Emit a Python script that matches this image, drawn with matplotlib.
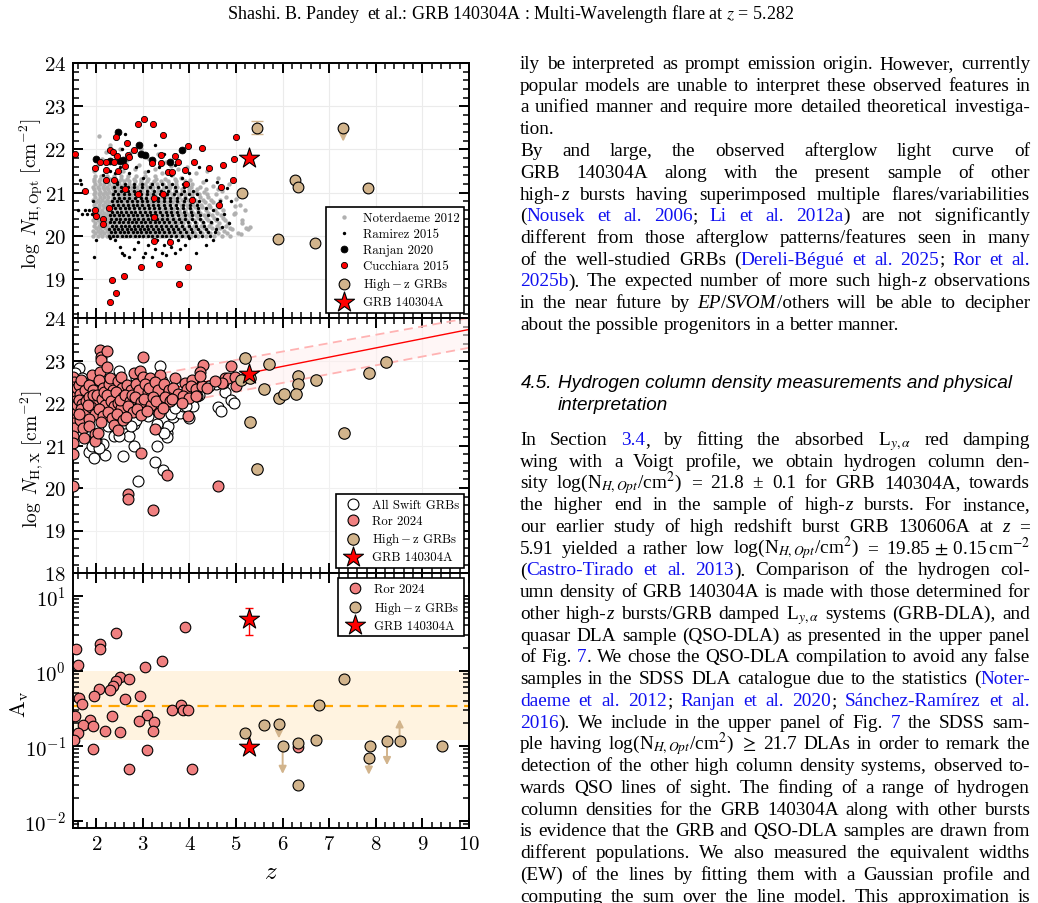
import re
import numpy as np
import matplotlib
matplotlib.use('Agg')
import matplotlib.pyplot as plt
from matplotlib.ticker import MultipleLocator, LogLocator, NullFormatter

plt.rcParams.update({
    'font.family': 'serif',
    'font.serif': ['cmr10'],
    'mathtext.fontset': 'cm',
    'axes.formatter.use_mathtext': True,
    'axes.unicode_minus': False,
})

# ---------------- data: upper panel (optical N_H) ----------------
noter_rows = [
    (20.00, [1.93, 2.03, 2.12, 2.22, 2.31, 2.41, 2.50, 2.60, 2.69, 2.79, 2.88, 2.98, 3.07, 3.17, 3.26, 3.36, 3.46, 3.57, 3.68, 3.79, 3.91, 4.04, 4.19, 4.35, 4.52, 4.70, 4.88]),
    (20.06, [1.98, 2.08, 2.17, 2.27, 2.36, 2.45, 2.55, 2.64, 2.74, 2.84, 2.93, 3.02, 3.12, 3.22, 3.31, 3.41, 3.52, 3.62, 3.73, 3.85, 3.97, 4.11, 4.27, 4.44, 4.61, 4.80, 5.05]),
    (20.12, [1.94, 2.04, 2.13, 2.23, 2.32, 2.42, 2.51, 2.61, 2.70, 2.80, 2.89, 2.99, 3.08, 3.18, 3.28, 3.38, 3.48, 3.59, 3.70, 3.82, 3.94, 4.07, 4.22, 4.38, 4.56, 4.75]),
    (20.18, [1.99, 2.09, 2.18, 2.28, 2.37, 2.47, 2.56, 2.66, 2.75, 2.85, 2.94, 3.04, 3.14, 3.24, 3.33, 3.44, 3.54, 3.65, 3.77, 3.89, 4.01, 4.15, 4.31, 4.48, 4.66, 4.86, 5.22]),
    (20.24, [1.95, 2.05, 2.14, 2.24, 2.33, 2.43, 2.52, 2.62, 2.71, 2.81, 2.90, 3.00, 3.10, 3.20, 3.30, 3.40, 3.50, 3.61, 3.72, 3.84, 3.96, 4.10, 4.25, 4.41, 4.59, 4.78]),
    (20.30, [1.97, 2.07, 2.16, 2.26, 2.35, 2.45, 2.54, 2.64, 2.73, 2.83, 2.92, 3.02, 3.12, 3.22, 3.32, 3.43, 3.53, 3.64, 3.75, 3.87, 4.00, 4.14, 4.29, 4.46, 4.64, 4.83]),
    (20.36, [1.94, 2.03, 2.13, 2.22, 2.32, 2.41, 2.51, 2.60, 2.70, 2.79, 2.89, 2.98, 3.08, 3.18, 3.28, 3.38, 3.49, 3.60, 3.71, 3.83, 3.95, 4.09, 4.24, 4.40, 4.58, 4.76, 5.12]),
    (20.42, [1.99, 2.08, 2.18, 2.27, 2.37, 2.46, 2.56, 2.65, 2.75, 2.85, 2.94, 3.04, 3.14, 3.24, 3.35, 3.45, 3.56, 3.67, 3.79, 3.91, 4.04, 4.19, 4.35, 4.52, 4.71]),
    (20.48, [1.95, 2.05, 2.14, 2.24, 2.33, 2.43, 2.52, 2.62, 2.72, 2.81, 2.91, 3.01, 3.11, 3.21, 3.31, 3.42, 3.52, 3.63, 3.75, 3.87, 4.00, 4.15, 4.31, 4.49, 4.68]),
    (20.54, [1.98, 2.07, 2.17, 2.26, 2.36, 2.45, 2.55, 2.65, 2.74, 2.84, 2.94, 3.04, 3.14, 3.24, 3.34, 3.45, 3.56, 3.68, 3.80, 3.93, 4.07, 4.23, 4.40, 4.59, 4.98]),
    (20.60, [1.94, 2.04, 2.13, 2.23, 2.32, 2.42, 2.52, 2.61, 2.71, 2.81, 2.91, 3.01, 3.11, 3.21, 3.32, 3.43, 3.54, 3.65, 3.77, 3.90, 4.04, 4.19, 4.36, 4.54, 4.72]),
    (20.66, [1.97, 2.06, 2.16, 2.25, 2.35, 2.45, 2.54, 2.64, 2.74, 2.84, 2.94, 3.04, 3.15, 3.25, 3.36, 3.47, 3.58, 3.70, 3.83, 3.96, 4.11, 4.27, 4.45, 4.64]),
    (20.72, [1.95, 2.05, 2.14, 2.24, 2.34, 2.43, 2.53, 2.63, 2.73, 2.83, 2.93, 3.03, 3.13, 3.24, 3.34, 3.45, 3.57, 3.69, 3.81, 3.94, 4.08, 4.24, 4.41, 4.60, 5.08]),
    (20.78, [1.99, 2.08, 2.18, 2.28, 2.37, 2.47, 2.57, 2.67, 2.77, 2.87, 2.97, 3.07, 3.18, 3.28, 3.39, 3.51, 3.63, 3.75, 3.88, 4.02, 4.17, 4.33, 4.51]),
    (20.84, [1.94, 2.04, 2.13, 2.23, 2.33, 2.43, 2.53, 2.63, 2.72, 2.82, 2.93, 3.03, 3.13, 3.24, 3.35, 3.46, 3.58, 3.70, 3.83, 3.97, 4.12, 4.28, 4.47, 4.66]),
    (20.90, [1.97, 2.07, 2.17, 2.26, 2.36, 2.46, 2.56, 2.66, 2.76, 2.86, 2.97, 3.07, 3.18, 3.29, 3.40, 3.52, 3.64, 3.77, 3.91, 4.06, 4.22, 4.40]),
    (20.96, [1.95, 2.05, 2.15, 2.24, 2.34, 2.44, 2.54, 2.64, 2.74, 2.85, 2.95, 3.06, 3.16, 3.27, 3.39, 3.51, 3.63, 3.76, 3.90, 4.05, 4.21, 4.38, 4.57]),
    (21.02, [1.98, 2.08, 2.18, 2.28, 2.38, 2.48, 2.58, 2.68, 2.78, 2.89, 2.99, 3.10, 3.21, 3.32, 3.44, 3.56, 3.69, 3.83, 3.98, 4.14, 4.32]),
    (21.08, [1.96, 2.06, 2.16, 2.26, 2.36, 2.46, 2.56, 2.67, 2.77, 2.88, 2.98, 3.09, 3.20, 3.32, 3.44, 3.57, 3.70, 3.84, 3.99, 4.16, 4.35, 4.62]),
    (21.14, [1.94, 2.04, 2.14, 2.24, 2.34, 2.45, 2.55, 2.65, 2.76, 2.87, 2.98, 3.09, 3.21, 3.33, 3.46, 3.59, 3.73, 3.88, 4.04, 4.22]),
    (21.20, [1.97, 2.07, 2.17, 2.28, 2.38, 2.48, 2.59, 2.70, 2.81, 2.93, 3.05, 3.17, 3.30, 3.43, 3.57, 3.72, 3.88, 4.05]),
    (21.26, [1.95, 2.05, 2.16, 2.26, 2.37, 2.48, 2.59, 2.71, 2.83, 2.96, 3.09, 3.23, 3.38, 3.54, 3.71, 3.90]),
    (21.32, [1.96, 2.07, 2.18, 2.29, 2.41, 2.53, 2.66, 2.80, 2.95, 3.11, 3.28, 3.47, 3.68]),
    (21.38, [1.98, 2.10, 2.23, 2.37, 2.52, 2.68, 2.86, 3.05, 3.27]),
]
noter_extra = [(1.96, 21.5), (2.02, 21.62), (2.12, 21.78), (2.05, 22.3), (2.22, 21.55), (2.3, 22.1),
               (2.36, 21.68), (2.5, 22.0), (2.58, 21.5), (2.66, 21.75), (2.75, 21.95), (2.84, 21.55),
               (2.92, 21.65), (3.05, 21.48), (3.12, 21.8), (3.25, 21.55), (3.32, 21.9), (3.42, 21.45),
               (3.5, 21.7), (3.62, 21.42), (3.75, 21.55), (3.82, 21.35), (3.95, 21.6), (4.02, 21.3),
               (4.15, 21.45), (4.3, 21.25), (4.38, 21.5), (4.5, 21.15), (4.62, 21.35), (4.7, 21.05),
               (4.78, 20.9), (4.85, 21.2), (4.95, 20.5), (5.0, 20.85), (5.08, 21.05), (5.12, 20.3),
               (5.2, 20.6), (5.25, 20.15), (5.3, 20.2), (5.1, 20.05), (4.92, 20.15), (4.98, 20.7),
               (2.4, 21.85), (2.2, 21.95), (3.6, 21.62), (4.1, 21.72), (2.95, 22.0)]

ramirez_rows = [
    (20.00, [2.27, 2.36, 2.45, 2.55, 2.64, 2.73, 2.83, 2.92, 3.01, 3.11, 3.20, 3.30, 3.40, 3.50, 3.61, 3.72, 3.84, 3.97, 4.11, 4.27, 4.45]),
    (20.08, [2.31, 2.41, 2.50, 2.59, 2.69, 2.78, 2.87, 2.97, 3.06, 3.16, 3.25, 3.35, 3.45, 3.56, 3.67, 3.79, 3.92, 4.06, 4.22, 4.39]),
    (20.16, [2.28, 2.37, 2.46, 2.56, 2.65, 2.74, 2.84, 2.93, 3.03, 3.12, 3.22, 3.32, 3.42, 3.53, 3.64, 3.76, 3.89, 4.03, 4.18, 4.35, 4.58]),
    (20.24, [2.33, 2.42, 2.52, 2.61, 2.70, 2.80, 2.89, 2.99, 3.08, 3.18, 3.28, 3.38, 3.49, 3.60, 3.72, 3.85, 3.99, 4.14, 4.31]),
    (20.32, [2.29, 2.38, 2.48, 2.57, 2.67, 2.76, 2.86, 2.95, 3.05, 3.15, 3.25, 3.35, 3.46, 3.57, 3.69, 3.82, 3.96, 4.11, 4.28, 4.46]),
    (20.40, [2.32, 2.42, 2.51, 2.61, 2.70, 2.80, 2.90, 3.00, 3.10, 3.20, 3.30, 3.41, 3.52, 3.64, 3.77, 3.91, 4.06, 4.23]),
    (20.48, [2.30, 2.39, 2.49, 2.58, 2.68, 2.78, 2.88, 2.98, 3.08, 3.18, 3.29, 3.40, 3.51, 3.63, 3.76, 3.90, 4.05, 4.22, 4.40]),
    (20.56, [2.34, 2.44, 2.54, 2.64, 2.74, 2.84, 2.94, 3.04, 3.15, 3.26, 3.37, 3.49, 3.61, 3.74, 3.88, 4.03, 4.19]),
    (20.64, [2.31, 2.41, 2.51, 2.61, 2.71, 2.81, 2.92, 3.02, 3.13, 3.24, 3.35, 3.47, 3.60, 3.73, 3.87, 4.02, 4.18, 4.36]),
    (20.72, [2.36, 2.46, 2.57, 2.67, 2.78, 2.88, 2.99, 3.10, 3.21, 3.33, 3.45, 3.58, 3.71, 3.86, 4.01, 4.17]),
    (20.80, [2.33, 2.44, 2.54, 2.65, 2.76, 2.87, 2.98, 3.09, 3.21, 3.33, 3.46, 3.59, 3.73, 3.88, 4.04, 4.21]),
    (20.88, [2.38, 2.49, 2.60, 2.71, 2.83, 2.95, 3.07, 3.19, 3.32, 3.45, 3.59, 3.74, 3.90, 4.07]),
    (20.96, [2.35, 2.47, 2.59, 2.71, 2.83, 2.96, 3.09, 3.22, 3.36, 3.51, 3.66, 3.82, 3.99, 4.17]),
    (21.04, [2.41, 2.54, 2.67, 2.80, 2.94, 3.08, 3.23, 3.38, 3.54, 3.71, 3.89, 4.08]),
    (21.12, [2.38, 2.52, 2.67, 2.82, 2.98, 3.15, 3.32, 3.50, 3.69, 3.89]),
    (21.20, [2.45, 2.62, 2.80, 2.99, 3.19, 3.40, 3.62, 3.86]),
]
ramirez_extra = [(2.4, 19.9), (2.55, 19.6), (2.6, 19.55), (2.5, 19.75), (2.7, 19.5), (2.8, 19.7), (2.9, 19.85),
                 (3.0, 19.5), (3.05, 19.6), (3.1, 19.8), (3.2, 19.5), (3.25, 19.7), (3.3, 19.9), (3.4, 19.6),
                 (3.45, 19.8), (3.5, 19.55), (3.55, 19.9), (3.6, 19.75), (3.7, 19.6), (3.75, 19.9), (3.8, 19.7),
                 (3.9, 19.8), (4.0, 19.95), (4.15, 19.6), (4.35, 19.8), (4.5, 19.9), (1.95, 19.5), (2.3, 19.95),
                 (1.65, 21.3), (1.68, 21.2), (1.6, 20.6), (1.7, 20.5), (1.75, 20.6), (1.8, 20.5), (1.85, 20.6),
                 (1.9, 20.5), (1.93, 20.8), (1.72, 21.05), (2.0, 19.9), (2.3, 21.5), (2.5, 21.6), (2.55, 22.0),
                 (2.7, 21.45), (2.85, 21.6), (3.0, 21.35), (3.1, 21.5), (3.35, 21.6), (3.45, 21.9), (3.6, 21.4),
                 (3.7, 21.65), (3.85, 21.35), (4.0, 21.45), (4.2, 21.6), (4.35, 21.3), (4.45, 21.55), (4.6, 21.25),
                 (4.8, 21.1), (4.9, 20.8), (2.15, 21.4), (2.4, 21.45), (2.62, 22.35), (3.25, 22.1), (2.45, 21.25),
                 (4.5, 20.6), (4.6, 20.4), (4.7, 20.2), (4.75, 20.5), (4.85, 20.3), (4.55, 20.1), (4.65, 20.8)]

ranjan = [(1.99, 21.79), (2.30, 21.74), (2.47, 22.40), (2.51, 21.73), (2.57, 21.75), (2.91, 22.10),
          (3.05, 21.88), (2.95, 21.90), (3.84, 21.98), (3.59, 21.70), (3.20, 21.75)]

cucchiara = [(1.55, 21.89), (1.76, 21.04), (1.97, 21.57), (1.97, 20.59), (1.99, 20.47), (2.14, 20.38),
             (2.14, 20.28), (2.09, 21.71), (2.21, 21.53), (2.21, 21.29), (2.27, 20.64), (2.30, 21.98),
             (2.35, 21.94), (2.37, 21.29), (2.37, 21.70), (2.42, 22.29), (2.44, 21.84), (2.46, 21.50),
             (2.61, 21.09), (2.61, 21.61), (2.66, 22.14), (2.67, 21.87), (2.71, 21.82), (2.81, 21.99),
             (2.90, 22.59), (2.90, 20.98), (2.96, 19.27), (3.03, 22.70), (3.21, 22.59), (3.20, 21.69),
             (3.23, 20.88), (3.24, 20.43), (3.23, 19.88), (3.34, 19.36), (3.43, 22.34), (3.38, 21.88),
             (3.39, 21.69), (3.44, 20.98), (3.54, 21.48), (3.63, 21.48), (3.59, 19.87), (3.68, 21.85),
             (3.75, 21.70), (3.77, 18.88), (3.91, 21.53), (3.93, 21.19), (3.97, 22.09), (3.96, 19.29),
             (4.05, 20.84), (4.10, 21.71), (4.26, 22.04), (4.41, 21.58), (4.64, 20.71), (4.67, 21.12),
             (4.71, 21.64), (4.94, 21.29), (4.95, 21.79), (4.99, 22.29), (2.30, 18.48), (2.34, 18.98),
             (2.42, 18.67), (2.60, 19.08), (2.20, 21.72)]

highz_opt = [(5.12, 21.0), (5.46, 22.5), (5.91, 19.93), (6.27, 21.3), (6.32, 21.13), (6.70, 19.84), (7.30, 22.5), (7.84, 21.1)]
highz_opt_err = [(5.46, 22.5, 0.15)]
highz_opt_uplim = [(7.30, 22.5, 22.18)]

grb_z = 5.283
grb_nh_opt = 21.8
grb_nh_x = 22.69

# ---------------- data: middle panel (X-ray N_H) ----------------
swift_nh = [(1.85, 20.85), (1.96, 20.71), (2.19, 20.78), (2.14, 21.04), (2.57, 20.75), (2.89, 20.17),
            (3.27, 20.62), (3.31, 21.0), (3.43, 20.42), (3.36, 21.38), (3.52, 21.3), (3.52, 21.2),
            (3.54, 21.46), (2.82, 20.99), (2.71, 21.22), (2.39, 21.22), (2.35, 21.57), (2.60, 21.54),
            (2.82, 21.5), (2.85, 21.61), (3.65, 21.68), (3.79, 21.77), (3.86, 21.93), (4.08, 21.93),
            (3.98, 21.65), (3.21, 22.36), (3.41, 22.51), (2.48, 22.75), (1.63, 22.83), (3.36, 22.87),
            (4.56, 22.44), (4.77, 22.26), (4.90, 22.06), (4.96, 22.0), (4.61, 21.9), (4.67, 21.82),
            (4.41, 22.39), (4.20, 22.2), (4.05, 22.2), (1.90, 21.0), (2.00, 21.1), (2.05, 20.95),
            (1.80, 21.3), (1.75, 21.6), (1.70, 21.9), (1.55, 22.7), (1.60, 22.5), (2.25, 21.45),
            (2.48, 21.22), (2.75, 21.45), (3.00, 21.8), (3.05, 22.2), (3.10, 21.7), (3.30, 21.5),
            (3.45, 21.3), (3.60, 21.75), (3.70, 21.88), (3.93, 21.93), (2.10, 22.0), (2.40, 22.1),
            (2.70, 22.0), (2.90, 22.2), (3.15, 21.9), (3.45, 22.0), (2.20, 21.9), (2.00, 22.3),
            (2.55, 22.4), (3.00, 22.5), (3.60, 22.2), (1.70, 22.6), (2.85, 22.6), (1.50, 22.2)]

ror_nh = [(1.50, 22.62), (1.52, 22.50), (1.50, 22.38), (1.53, 22.27), (1.51, 22.15), (1.55, 22.05),
          (1.50, 21.95), (1.54, 21.85), (1.51, 21.74), (1.56, 21.63), (1.50, 21.52), (1.53, 21.42),
          (1.50, 21.22), (1.50, 21.05), (1.51, 20.80), (1.50, 20.05), (1.58, 22.35), (1.58, 21.95),
          (1.63, 22.42), (1.66, 22.22), (1.62, 22.08), (1.70, 21.98), (1.68, 21.86), (1.73, 21.72),
          (1.65, 21.60), (1.72, 21.42), (1.73, 21.17), (1.76, 22.30), (1.78, 22.05), (1.79, 21.80),
          (1.62, 21.75), (1.67, 22.55), (1.91, 22.65), (1.85, 22.42), (1.92, 22.30), (1.84, 22.15),
          (1.95, 22.02), (1.88, 21.90), (1.97, 21.75), (1.85, 21.62), (1.85, 21.46), (1.98, 21.28),
          (1.98, 21.10), (1.82, 21.95), (1.93, 22.20), (2.08, 23.24), (2.10, 23.08), (2.10, 23.02),
          (2.09, 22.72), (2.05, 22.55), (2.15, 22.35), (2.02, 22.20), (2.12, 22.10), (2.18, 21.95),
          (2.06, 21.85), (2.14, 21.70), (2.03, 21.30), (2.10, 21.55), (2.17, 22.25), (2.24, 23.22),
          (2.24, 22.84), (2.28, 22.45), (2.35, 22.30), (2.22, 22.18), (2.31, 22.05), (2.38, 21.92),
          (2.26, 21.80), (2.33, 21.65), (2.39, 21.48), (2.30, 22.60), (2.46, 22.52), (2.55, 22.35),
          (2.42, 22.25), (2.58, 22.15), (2.47, 22.00), (2.53, 21.88), (2.44, 21.75), (2.57, 21.60),
          (2.46, 21.36), (2.52, 22.62), (2.50, 22.08), (2.65, 22.42), (2.75, 22.30), (2.62, 22.20),
          (2.72, 22.05), (2.67, 21.94), (2.78, 21.80), (2.63, 21.66), (2.68, 19.85), (2.69, 19.74),
          (2.76, 22.18), (2.80, 22.71), (2.94, 22.76), (2.85, 22.45), (2.92, 22.30), (2.83, 22.15),
          (2.97, 22.02), (2.88, 21.86), (2.95, 21.72), (2.95, 20.83), (3.00, 23.08), (3.01, 22.61),
          (3.16, 22.59), (3.05, 22.45), (3.12, 22.25), (3.03, 22.10), (3.18, 21.96), (3.08, 21.82),
          (3.21, 19.49), (3.14, 22.35), (3.36, 22.65), (3.25, 22.50), (3.32, 22.30), (3.22, 22.15),
          (3.38, 22.02), (3.34, 21.77), (3.25, 21.39), (3.28, 22.05), (3.45, 22.45), (3.55, 22.30),
          (3.48, 22.15), (3.58, 22.05), (3.43, 21.88), (3.52, 20.31), (3.69, 22.58), (3.65, 22.35),
          (3.75, 22.22), (3.62, 22.10), (3.91, 22.46), (3.95, 22.34), (3.86, 22.16), (3.98, 22.11),
          (3.84, 22.00), (3.97, 21.69), (4.06, 22.53), (4.04, 22.41), (4.13, 22.32), (4.17, 22.16),
          (4.15, 22.16), (4.29, 22.89), (4.22, 22.72), (4.26, 22.40), (4.38, 22.36), (4.23, 22.63),
          (4.71, 22.47), (4.76, 22.59), (4.82, 22.60), (4.69, 22.47), (4.90, 22.88), (4.97, 22.61),
          (5.00, 22.40), (4.61, 20.05), (4.55, 22.52)]

highz_nh = [(5.19, 23.06), (5.10, 22.53), (5.30, 22.58), (5.71, 22.92), (5.61, 22.34), (5.30, 21.55),
            (5.46, 20.44), (5.93, 22.12), (6.02, 22.22), (6.34, 22.63), (6.34, 22.44), (6.29, 22.22),
            (6.71, 22.54), (7.31, 21.29), (7.85, 22.71), (8.21, 22.97)]

fit_z = [2.4, 10.0]
fit_n = [22.08, 23.73]
band_z = [2.5, 10.0]
band_hi = [22.52, 24.00]
band_lo = [21.75, 23.30]

# ---------------- data: lower panel (A_V) ----------------
ror_av = [(1.56, 1.96), (1.60, 1.18), (2.09, 2.29), (2.09, 1.96), (2.42, 3.15), (3.91, 3.82), (3.42, 1.35),
          (3.04, 1.13), (2.50, 0.82), (2.42, 0.72), (2.36, 0.625), (2.30, 0.55), (2.71, 0.77), (2.06, 0.575),
          (1.96, 0.455), (1.63, 0.43), (1.69, 0.36), (2.62, 0.42), (2.94, 0.46), (3.62, 0.296), (3.81, 0.345),
          (3.86, 0.30), (3.97, 0.30), (1.55, 0.249), (2.34, 0.249), (3.08, 0.259), (1.87, 0.218),
          (2.91, 0.213), (3.24, 0.207), (1.71, 0.187), (1.94, 0.181), (1.60, 0.149), (2.19, 0.157),
          (2.51, 0.152), (3.22, 0.157), (1.52, 0.12), (1.94, 0.091), (3.08, 0.0885), (2.70, 0.049),
          (4.05, 0.049), (6.33, 0.095)]
highz_av = [(5.20, 0.148), (5.60, 0.187), (5.92, 0.196), (6.00, 0.099), (6.34, 0.109), (6.33, 0.0296),
            (6.71, 0.118), (6.78, 0.345), (7.31, 0.78), (7.85, 0.069), (7.88, 0.098), (8.24, 0.117),
            (8.51, 0.117), (9.41, 0.098)]
highz_av_lim = [(5.92, 0.196, 0.125), (6.00, 0.099, 0.042), (7.85, 0.069, 0.041), (8.24, 0.117, 0.055), (8.51, 0.117, 0.225)]
grb_av = [4.93, 0.096]
grb_av_err = (1.97, 1.92)
av_band = (0.12, 1.0)
av_mean = 0.34

# ---------------- page text ----------------
header = "Shashi. B. Pandey  et al.: GRB 140304A : Multi-Wavelength flare at $z$ = 5.282"
para_a = [
    "ily be interpreted as prompt emission origin. However, currently",
    "popular models are unable to interpret these observed features in",
    "a unified manner and require more detailed theoretical investiga-",
    "tion.",
    "By and large, the observed afterglow light curve of",
    "GRB 140304A along with the present sample of other",
    "high-‹z› bursts having superimposed multiple flares/variabilities",
    "(«Nousek et al. 2006»; «Li et al. 2012a») are not significantly",
    "different from those afterglow patterns/features seen in many",
    "of the well-studied GRBs («Dereli-Bégué et al. 2025»; «Ror et al.»",
    "«2025b»). The expected number of more such high-‹z› observations",
    "in the near future by ‹EP›/‹SVOM›/others will be able to decipher",
    "about the possible progenitors in a better manner.",
]
para_a_last = {3, 12}
heading = ["4.5.", "Hydrogen column density measurements and physical", "interpretation"]
para_b = [
    r"In Section «3.4», by fitting the absorbed L$_{y,\alpha}$ red damping",
    "wing with a Voigt profile, we obtain hydrogen column den-",
    r"sity log(N$_{H,Opt}$/cm$^2$) = 21.8 ± 0.1 for GRB 140304A, towards",
    "the higher end in the sample of high-‹z› bursts. For instance,",
    "our earlier study of high redshift burst GRB 130606A at ‹z› =",
    r"5.91 yielded a rather low log(N$_{H,Opt}$/cm$^2$) = 19.85$\,\pm\,$0.15$\,$cm$^{-2}$",
    "(«Castro-Tirado et al. 2013»). Comparison of the hydrogen col-",
    "umn density of GRB 140304A is made with those determined for",
    r"other high-‹z› bursts/GRB damped L$_{y,\alpha}$ systems (GRB-DLA), and",
    "quasar DLA sample (QSO-DLA) as presented in the upper panel",
    "of Fig. «7». We chose the QSO-DLA compilation to avoid any false",
    "samples in the SDSS DLA catalogue due to the statistics («Noter-»",
    "«daeme et al. 2012»; «Ranjan et al. 2020»; «Sánchez-Ramírez et al.»",
    "«2016»). We include in the upper panel of Fig. «7» the SDSS sam-",
    r"ple having log(N$_{H,Opt}$/cm$^2$) $\geq$ 21.7 DLAs in order to remark the",
    "detection of the other high column density systems, observed to-",
    "wards QSO lines of sight. The finding of a range of hydrogen",
    "column densities for the GRB 140304A along with other bursts",
    "is evidence that the GRB and QSO-DLA samples are drawn from",
    "different populations. We also measured the equivalent widths",
    "(EW) of the lines by fitting them with a Gaussian profile and",
    "computing the sum over the line model. This approximation is",
]

GRAY = '#b0b0b0'
ROR = '#F08080'
TAN = '#D2B48C'
LINK = '#1010f0'

W, H = 1038, 904
fig = plt.figure(figsize=(W / 100, H / 100), dpi=100)


def fx(px):
    return px / W


def fy(py):
    return 1 - py / H


L, R, PH = 73, 469, 255
ax1 = fig.add_axes([fx(L), fy(64 + PH), (R - L) / W, PH / H])
ax2 = fig.add_axes([fx(L), fy(319 + PH), (R - L) / W, PH / H])
ax3 = fig.add_axes([fx(L), fy(574 + PH), (R - L) / W, PH / H])


def style(ax):
    ax.set_xlim(1.5, 10)
    ax.xaxis.set_major_locator(MultipleLocator(1))
    ax.xaxis.set_minor_locator(MultipleLocator(0.2))
    ax.tick_params(which='both', direction='in', top=True, right=True, labelsize=15, pad=5)
    ax.tick_params(which='major', length=7, width=1.4)
    ax.tick_params(which='minor', length=4, width=1.1)
    for s in ax.spines.values():
        s.set_linewidth(1.4)


def legend(ax, loc='lower right'):
    leg = ax.legend(loc=loc, fontsize=9.2, frameon=True, fancybox=False, framealpha=1,
                    edgecolor='black', borderpad=0.35, labelspacing=0.3, handletextpad=0.5,
                    borderaxespad=0.4, scatterpoints=1)
    leg.get_frame().set_linewidth(1.2)
    leg.set_zorder(10)
    return leg


def arrow(ax, x, y0, y1):
    ax.annotate('', xy=(x, y1), xytext=(x, y0), zorder=2,
                arrowprops=dict(arrowstyle='-|>', color=TAN, lw=1.4, mutation_scale=11, shrinkA=0, shrinkB=0))


def xy(pts):
    a = np.array(pts)
    return a[:, 0], a[:, 1]


# ---- upper panel ----
style(ax1)
nz = [z for n, zs in noter_rows for z in zs] + [p[0] for p in noter_extra]
nn = [n for n, zs in noter_rows for z in zs] + [p[1] for p in noter_extra]
ax1.scatter(nz, nn, s=10, color=GRAY, lw=0, zorder=2, label='Noterdaeme 2012')
rz = [z for n, zs in ramirez_rows for z in zs] + [p[0] for p in ramirez_extra]
rn = [n for n, zs in ramirez_rows for z in zs] + [p[1] for p in ramirez_extra]
ax1.scatter(rz, rn, s=6, color='black', lw=0, zorder=3, label='Ramirez 2015')
ax1.scatter(*xy(ranjan), s=24, color='black', edgecolor='black', lw=0.6, zorder=4, label='Ranjan 2020')
ax1.scatter(*xy(cucchiara), s=20, color='red', edgecolor='black', lw=0.6, zorder=5, label='Cucchiara 2015')
for x, y, e in highz_opt_err:
    ax1.errorbar(x, y, yerr=e, color=TAN, capsize=4, lw=1.2, zorder=5)
for x, y0, y1 in highz_opt_uplim:
    arrow(ax1, x, y0, y1)
ax1.scatter(*xy(highz_opt), s=60, color=TAN, edgecolor='black', lw=0.8, zorder=6, label=r'$\mathrm{High-z\ GRBs}$')
ax1.scatter([grb_z], [grb_nh_opt], s=230, marker='*', color='red', edgecolor='black', lw=0.8, zorder=7, label='GRB 140304A')
ax1.set_ylim(18.1, 24)
ax1.yaxis.set_major_locator(MultipleLocator(1))
ax1.yaxis.set_minor_locator(MultipleLocator(0.2))
ax1.tick_params(labelbottom=False)
ax1.grid(True, which='major', color='#ebebeb', lw=0.8, zorder=0)
ax1.set_axisbelow(True)
ax1.set_ylabel(r'$\log\ N_{\rm H,Opt}\ [{\rm cm}^{-2}]$', fontsize=14)
ax1.yaxis.set_label_coords(-0.07, 0.49)
legend(ax1)

# ---- middle panel ----
style(ax2)
ax2.fill_between(band_z, band_lo, band_hi, color='#ffeeee', alpha=0.5, lw=0, zorder=1)
ax2.plot(band_z, band_hi, color='#ffb3b3', lw=1.3, ls=(0, (5, 3)), zorder=1)
ax2.plot(band_z, band_lo, color='#ffb3b3', lw=1.3, ls=(0, (5, 3)), zorder=1)
ax2.plot(fit_z, fit_n, color='red', lw=1.0, zorder=1)
ax2.scatter(*xy(swift_nh), s=62, color='white', edgecolor='black', lw=0.8, zorder=3, label='All Swift GRBs')
ax2.scatter(*xy(ror_nh), s=62, color=ROR, edgecolor='black', lw=0.8, zorder=4, label='Ror 2024')
ax2.scatter(*xy(highz_nh), s=68, color=TAN, edgecolor='black', lw=0.8, zorder=5, label=r'$\mathrm{High-z\ GRBs}$')
ax2.scatter([grb_z], [grb_nh_x], s=230, marker='*', color='red', edgecolor='black', lw=0.8, zorder=7, label='GRB 140304A')
ax2.set_ylim(18, 24)
ax2.yaxis.set_major_locator(MultipleLocator(1))
ax2.yaxis.set_minor_locator(MultipleLocator(0.2))
ax2.tick_params(labelbottom=False)
ax2.grid(True, which='major', color='#f0f0f0', lw=0.8, zorder=0)
ax2.set_axisbelow(True)
ax2.set_ylabel(r'$\log\ N_{\rm H,X}\ [{\rm cm}^{-2}]$', fontsize=14)
ax2.yaxis.set_label_coords(-0.07, 0.45)
legend(ax2)

# ---- lower panel ----
style(ax3)
ax3.set_yscale('log')
ax3.set_ylim(8e-3, 20)
ax3.yaxis.set_major_locator(LogLocator(base=10, numticks=10))
ax3.yaxis.set_minor_locator(LogLocator(base=10, subs=np.arange(2, 10), numticks=20))
ax3.yaxis.set_minor_formatter(NullFormatter())
ax3.axhspan(*av_band, color='#fff3e0', lw=0, zorder=0)
ax3.axhline(av_mean, color='orange', lw=1.6, ls=(0, (5, 3)), zorder=1)
ax3.scatter(*xy(ror_av), s=58, color=ROR, edgecolor='black', lw=0.8, zorder=4, label='Ror 2024')
for x, y0, y1 in highz_av_lim:
    arrow(ax3, x, y0, y1)
ax3.scatter(*xy(highz_av), s=62, color=TAN, edgecolor='black', lw=0.8, zorder=5, label=r'$\mathrm{High-z\ GRBs}$')
ax3.errorbar([grb_z], [grb_av[0]], yerr=[[grb_av_err[0]], [grb_av_err[1]]], color='red', capsize=3, lw=1.0, zorder=6)
ax3.scatter([grb_z] * 2, grb_av, s=230, marker='*', color='red', edgecolor='black', lw=0.8, zorder=7, label='GRB 140304A')
ax3.set_ylabel(r'$\rm A_v$', fontsize=16)
ax3.yaxis.set_label_coords(-0.105, 0.49)
ax3.set_xlabel(r'$z$', fontsize=18)
ax3.xaxis.set_label_coords(0.5, -0.13)
legend(ax3, loc='upper right')

# ---------------- page text rendering ----------------
renderer = fig.canvas.get_renderer()
SEG = re.compile(r'«([^»]*)»|‹([^›]*)›|([^«‹]+)')
BODY = dict(family='Liberation Serif', size=13.9, math_fontfamily='stix')


def words_of(line):
    words, cur = [], []
    for m in SEG.finditer(line):
        blue, ital, plain = m.groups()
        if blue is not None:
            txt, st = blue, 'b'
        elif ital is not None:
            txt, st = ital, 'i'
        else:
            txt, st = plain, 'n'
        for k, p in enumerate(txt.split(' ')):
            if k > 0 and cur:
                words.append(cur)
                cur = []
            if p:
                cur.append((p, st))
    if cur:
        words.append(cur)
    return words


def put_line(line, y, justify=True, x0=520, x1=1030):
    items = []
    for w in words_of(line):
        pcs = []
        for txt, st in w:
            t = fig.text(0, 0, txt, color=LINK if st == 'b' else 'black',
                         style='italic' if st == 'i' else 'normal', va='baseline', **BODY)
            pcs.append((t, t.get_window_extent(renderer).width))
        items.append(pcs)
    widths = [sum(w for _, w in pcs) for pcs in items]
    space = BODY['size'] * 0.25 * 100 / 72
    if justify and len(items) > 1:
        gap = max((x1 - x0 - sum(widths)) / (len(items) - 1), 2.5)
    else:
        gap = space
    x = x0
    for pcs, wd in zip(items, widths):
        xx = x
        for t, w in pcs:
            t.set_position((fx(xx), fy(y)))
            xx += w
        x += wd + gap


fig.text(fx(511), fy(19), header, ha='center', va='baseline', family='Liberation Serif',
         size=13, math_fontfamily='stix')

for i, line in enumerate(para_a):
    put_line(line, 69 + 21.75 * i, justify=i not in para_a_last)

HEAD = dict(family='Liberation Sans', style='italic', size=13.6, va='baseline')
fig.text(fx(521), fy(388), heading[0], **HEAD)
fig.text(fx(558), fy(388), heading[1], **HEAD)
fig.text(fx(558), fy(410), heading[2], **HEAD)

for i, line in enumerate(para_b):
    put_line(line, 445 + 21.75 * i)

fig.savefig('out.png', dpi=100)
